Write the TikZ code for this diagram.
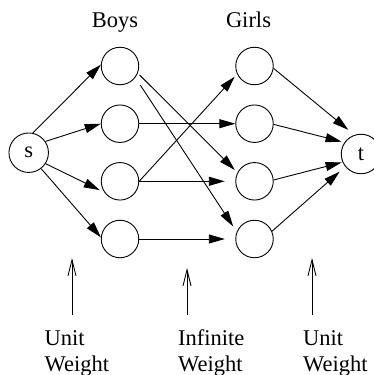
\documentclass[tikz,border=0pt]{standalone}
\usepackage{fontspec}
\setmainfont{Liberation Serif}
\usetikzlibrary{arrows.meta}
\begin{document}
\begin{tikzpicture}[x=1pt,y=-1pt,
  vtx/.style={circle,draw,line width=0.9pt,minimum size=37.5pt,inner sep=0pt},
  term/.style={circle,draw,line width=0.9pt,minimum size=39.5pt,inner sep=0pt,font=\fontsize{22.5}{27}\selectfont},
  edge/.style={line width=0.9pt,-{Triangle[length=16pt,width=9pt]}},
  lbl/.style={font=\fontsize{22.5}{27}\selectfont,inner sep=0pt},
  pointer/.style={line width=0.9pt,-{Straight Barb[length=16pt,width=8pt,line width=0.9pt]}}]
\useasboundingbox (0,0) rectangle (374,375);

\node[term] (s) at (28.7,152.7) {s};
\node[term] (t) at (361,154) {t};
\node[vtx] (b1) at (120,66) {};
\node[vtx] (b2) at (120,123.7) {};
\node[vtx] (b3) at (120,181.3) {};
\node[vtx] (b4) at (120,239) {};
\node[vtx] (g1) at (254.5,66) {};
\node[vtx] (g2) at (254.5,123.7) {};
\node[vtx] (g3) at (254.5,181.3) {};
\node[vtx] (g4) at (254.5,239) {};

\node[lbl,anchor=base] (boys) at (115,27.7) {Boys};
\node[lbl,anchor=base] (girls) at (248.5,27.5) {Girls};

\draw[edge] (s.78) -- (b1.176);
\draw[edge] (s.34) -- (b2.180);
\draw[edge,shorten >=5pt] (s.-33) -- (b3.215);
\draw[edge] (s.-52) -- (b4.175);

\draw[edge,shorten <=2.5pt,shorten >=3.7pt] (b1.-22.5) -- (g3.153);
\draw[edge,shorten <=9pt,shorten >=6.4pt] (b1.-37) -- (g4.158);
\draw[edge] (b2.east) -- (g2.west);
\draw[edge,shorten >=3.5pt] (b3.east) -- (g1.205);
\draw[edge,shorten >=10.5pt] (b3.east) -- (g3.west);
\draw[edge,shorten >=10.5pt] (b4.east) -- (g4.west);

\draw[edge,shorten >=8pt] (g1.-7) -- (t.109);
\draw[edge,shorten >=3pt] (g2.-2) -- (t.145);
\draw[edge,shorten >=1pt] (g3.4) -- (t.204);
\draw[edge,shorten >=7.5pt] (g4.24) -- (t.219.5);

\coordinate (p1a) at (72,315);
\coordinate (p1b) at (72,258);
\coordinate (p2a) at (187,315);
\coordinate (p2b) at (187,268);
\coordinate (p3a) at (312,315);
\coordinate (p3b) at (312,258);
\draw[pointer] (p1a) -- (p1b);
\draw[pointer] (p2a) -- (p2b);
\draw[pointer] (p3a) -- (p3b);

\node[lbl,anchor=base west] (u1) at (44.5,345) {Unit};
\node[lbl,anchor=base west] (w1) at (44.5,371.6) {Weight};
\node[lbl,anchor=base west] (u2) at (178,345) {Infinite};
\node[lbl,anchor=base west] (w2) at (178,371.6) {Weight};
\node[lbl,anchor=base west] (u3) at (303,345) {Unit};
\node[lbl,anchor=base west] (w3) at (303,371.6) {Weight};
\end{tikzpicture}
\end{document}
